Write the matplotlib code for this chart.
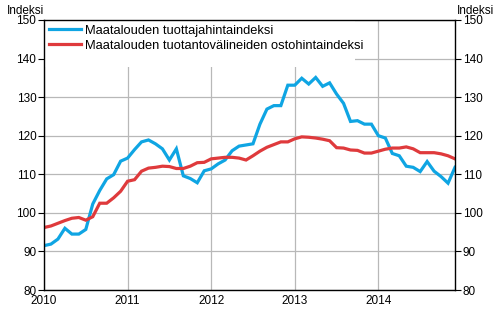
import matplotlib.pyplot as plt
from matplotlib.patches import Rectangle
import numpy as np

plt.rcParams['font.family'] = ['Liberation Sans', 'DejaVu Sans']

# monthly index values, Jan 2010 - Dec 2014
tuottaja = [91.5, 91.9, 93.2, 96.0, 94.5, 94.5, 95.7, 102.3, 105.8, 108.8, 109.9, 113.4,
            114.2, 116.4, 118.4, 118.9, 117.9, 116.6, 113.7, 116.6, 109.6, 108.9, 107.8, 110.9,
            111.4, 112.7, 113.7, 116.1, 117.3, 117.6, 117.9, 123.0, 126.9, 127.8, 127.8, 133.1,
            133.1, 134.9, 133.4, 135.1, 132.8, 133.7, 130.8, 128.4, 123.7, 123.9, 123.0, 123.0,
            120.0, 119.4, 115.4, 114.8, 112.1, 111.8, 110.7, 113.3, 110.8, 109.4, 107.7, 111.8]
ostohinta = [96.2, 96.6, 97.3, 98.0, 98.6, 98.8, 98.1, 99.0, 102.5, 102.5, 103.9, 105.6,
             108.2, 108.6, 110.8, 111.6, 111.8, 112.1, 112.0, 111.5, 111.5, 112.1, 113.0, 113.1,
             114.0, 114.2, 114.4, 114.4, 114.2, 113.7, 114.8, 116.0, 117.0, 117.7, 118.4, 118.4,
             119.2, 119.7, 119.6, 119.4, 119.1, 118.7, 116.9, 116.8, 116.3, 116.2, 115.5, 115.5,
             116.0, 116.5, 116.8, 116.8, 117.1, 116.6, 115.6, 115.6, 115.6, 115.3, 114.8, 114.0]
years = [2010, 2011, 2012, 2013, 2014]
labels = ['Maatalouden tuottajahintaindeksi',
          'Maatalouden tuotantovälineiden ostohintaindeksi']

x = 2010 + np.arange(len(tuottaja)) / 12.0

fig = plt.figure(figsize=(5, 3.3), dpi=100)
ax = fig.add_axes([0.088, 0.1212, 0.822, 0.8182])

ax.plot(x, tuottaja, color='#0fa5e3', lw=2.3, label=labels[0], solid_joinstyle='miter')
ax.plot(x, ostohinta, color='#df3a3c', lw=2.3, label=labels[1], solid_joinstyle='miter')

ax.set_xlim(2010, x[-1])
ax.set_ylim(80, 150)
ax.set_xticks(years)
ax.set_xticklabels([str(y) for y in years])
ax.set_yticks(range(80, 151, 10))
ax.grid(True, color='#b8b8b8', lw=0.9)
ax.set_axisbelow(True)

ax.tick_params(axis='y', direction='out', length=4, width=0.8, labelsize=8.5,
               left=True, right=True, labelleft=True, labelright=True, pad=1.5)
ax.tick_params(axis='x', length=0, labelsize=8.5, pad=3.5)
for s in ax.spines.values():
    s.set_linewidth(1.0)

fig.text(0.014, 0.985, 'Indeksi', fontsize=8.5, ha='left', va='top')
fig.text(0.988, 0.985, 'Indeksi', fontsize=8.5, ha='right', va='top')

# white block behind the legend hides the grid there
ax.add_patch(Rectangle((0, 0.826), 0.757, 0.174, transform=ax.transAxes,
                       facecolor='white', edgecolor='none', zorder=1))

leg = ax.legend(loc='upper left', fontsize=9.3, frameon=False,
                handlelength=2.5, handletextpad=0.3, borderpad=0.35,
                labelspacing=0.25, borderaxespad=0.0)

fig.savefig('out.png', dpi=100)
